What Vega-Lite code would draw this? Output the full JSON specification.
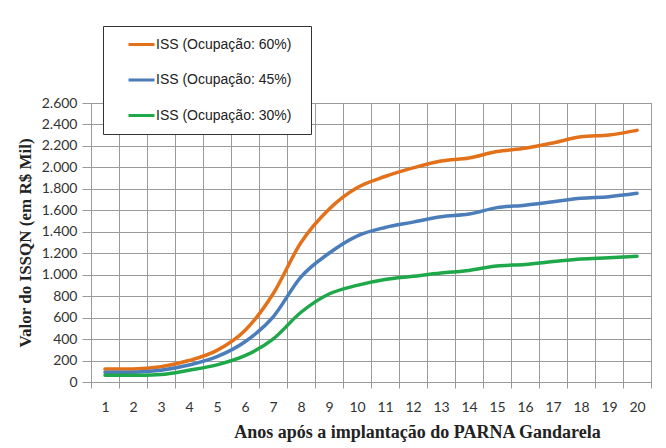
{
  "$schema": "https://vega.github.io/schema/vega-lite/v6.json",
  "width": 560,
  "height": 279,
  "autosize": "none",
  "padding": {"left": 91, "top": 103, "right": 15, "bottom": 66},
  "background": "white",
  "config": {
    "locale": {"number": {"decimal": ",", "thousands": ".", "grouping": [3], "currency": ["R$ ", ""]}},
    "view": {"stroke": "#9a9a9a", "strokeWidth": 1}
  },
  "data": {
    "values": [
      {"ano": 1, "serie": "ISS (Ocupação: 60%)", "valor": 120},
      {"ano": 2, "serie": "ISS (Ocupação: 60%)", "valor": 122},
      {"ano": 3, "serie": "ISS (Ocupação: 60%)", "valor": 143},
      {"ano": 4, "serie": "ISS (Ocupação: 60%)", "valor": 200},
      {"ano": 5, "serie": "ISS (Ocupação: 60%)", "valor": 295},
      {"ano": 6, "serie": "ISS (Ocupação: 60%)", "valor": 480},
      {"ano": 7, "serie": "ISS (Ocupação: 60%)", "valor": 820},
      {"ano": 8, "serie": "ISS (Ocupação: 60%)", "valor": 1300},
      {"ano": 9, "serie": "ISS (Ocupação: 60%)", "valor": 1610},
      {"ano": 10, "serie": "ISS (Ocupação: 60%)", "valor": 1810},
      {"ano": 11, "serie": "ISS (Ocupação: 60%)", "valor": 1915},
      {"ano": 12, "serie": "ISS (Ocupação: 60%)", "valor": 1995},
      {"ano": 13, "serie": "ISS (Ocupação: 60%)", "valor": 2060},
      {"ano": 14, "serie": "ISS (Ocupação: 60%)", "valor": 2088},
      {"ano": 15, "serie": "ISS (Ocupação: 60%)", "valor": 2148},
      {"ano": 16, "serie": "ISS (Ocupação: 60%)", "valor": 2178},
      {"ano": 17, "serie": "ISS (Ocupação: 60%)", "valor": 2228},
      {"ano": 18, "serie": "ISS (Ocupação: 60%)", "valor": 2285},
      {"ano": 19, "serie": "ISS (Ocupação: 60%)", "valor": 2302},
      {"ano": 20, "serie": "ISS (Ocupação: 60%)", "valor": 2345},
      {"ano": 1, "serie": "ISS (Ocupação: 45%)", "valor": 90},
      {"ano": 2, "serie": "ISS (Ocupação: 45%)", "valor": 92},
      {"ano": 3, "serie": "ISS (Ocupação: 45%)", "valor": 110},
      {"ano": 4, "serie": "ISS (Ocupação: 45%)", "valor": 158},
      {"ano": 5, "serie": "ISS (Ocupação: 45%)", "valor": 236},
      {"ano": 6, "serie": "ISS (Ocupação: 45%)", "valor": 375},
      {"ano": 7, "serie": "ISS (Ocupação: 45%)", "valor": 605},
      {"ano": 8, "serie": "ISS (Ocupação: 45%)", "valor": 980},
      {"ano": 9, "serie": "ISS (Ocupação: 45%)", "valor": 1200},
      {"ano": 10, "serie": "ISS (Ocupação: 45%)", "valor": 1360},
      {"ano": 11, "serie": "ISS (Ocupação: 45%)", "valor": 1440},
      {"ano": 12, "serie": "ISS (Ocupação: 45%)", "valor": 1490},
      {"ano": 13, "serie": "ISS (Ocupação: 45%)", "valor": 1540},
      {"ano": 14, "serie": "ISS (Ocupação: 45%)", "valor": 1565},
      {"ano": 15, "serie": "ISS (Ocupação: 45%)", "valor": 1625},
      {"ano": 16, "serie": "ISS (Ocupação: 45%)", "valor": 1648},
      {"ano": 17, "serie": "ISS (Ocupação: 45%)", "valor": 1680},
      {"ano": 18, "serie": "ISS (Ocupação: 45%)", "valor": 1712},
      {"ano": 19, "serie": "ISS (Ocupação: 45%)", "valor": 1727},
      {"ano": 20, "serie": "ISS (Ocupação: 45%)", "valor": 1758},
      {"ano": 1, "serie": "ISS (Ocupação: 30%)", "valor": 62},
      {"ano": 2, "serie": "ISS (Ocupação: 30%)", "valor": 62},
      {"ano": 3, "serie": "ISS (Ocupação: 30%)", "valor": 70},
      {"ano": 4, "serie": "ISS (Ocupação: 30%)", "valor": 110},
      {"ano": 5, "serie": "ISS (Ocupação: 30%)", "valor": 160},
      {"ano": 6, "serie": "ISS (Ocupação: 30%)", "valor": 245},
      {"ano": 7, "serie": "ISS (Ocupação: 30%)", "valor": 400},
      {"ano": 8, "serie": "ISS (Ocupação: 30%)", "valor": 650},
      {"ano": 9, "serie": "ISS (Ocupação: 30%)", "valor": 820},
      {"ano": 10, "serie": "ISS (Ocupação: 30%)", "valor": 900},
      {"ano": 11, "serie": "ISS (Ocupação: 30%)", "valor": 955},
      {"ano": 12, "serie": "ISS (Ocupação: 30%)", "valor": 985},
      {"ano": 13, "serie": "ISS (Ocupação: 30%)", "valor": 1015},
      {"ano": 14, "serie": "ISS (Ocupação: 30%)", "valor": 1040},
      {"ano": 15, "serie": "ISS (Ocupação: 30%)", "valor": 1082},
      {"ano": 16, "serie": "ISS (Ocupação: 30%)", "valor": 1095},
      {"ano": 17, "serie": "ISS (Ocupação: 30%)", "valor": 1122},
      {"ano": 18, "serie": "ISS (Ocupação: 30%)", "valor": 1147},
      {"ano": 19, "serie": "ISS (Ocupação: 30%)", "valor": 1158},
      {"ano": 20, "serie": "ISS (Ocupação: 30%)", "valor": 1172}
    ]
  },
  "mark": {"type": "line", "interpolate": "monotone", "strokeWidth": 3.5, "strokeCap": "round", "strokeJoin": "round"},
  "encoding": {
    "x": {
      "field": "ano",
      "type": "ordinal",
      "bandPosition": 0.5,
      "scale": {"type": "band", "paddingInner": 0, "paddingOuter": 0},
      "axis": {
        "title": "Anos após a implantação do PARNA Gandarela",
        "labelAngle": 0,
        "tickBand": "extent",
        "grid": true,
        "gridColor": "#9a9a9a",
        "gridOpacity": 1,
        "domainColor": "#9a9a9a",
        "tickColor": "#9a9a9a",
        "tickSize": 6,
        "labelPadding": 12,
        "labelFont": "Lato",
        "labelFontSize": 14,
        "labelColor": "#333333",
        "titleFont": "Liberation Serif",
        "titleFontSize": 18,
        "titleFontWeight": "bold",
        "titleColor": "#222222",
        "titleX": 326,
        "titleY": 50,
        "titleAlign": "center",
        "titleBaseline": "middle"
      }
    },
    "y": {
      "field": "valor",
      "type": "quantitative",
      "scale": {"domain": [0, 2600], "nice": false},
      "axis": {
        "title": "Valor do ISSQN (em R$ Mil)",
        "values": [0, 200, 400, 600, 800, 1000, 1200, 1400, 1600, 1800, 2000, 2200, 2400, 2600],
        "format": ",d",
        "grid": true,
        "gridColor": "#9a9a9a",
        "gridOpacity": 1,
        "domainColor": "#9a9a9a",
        "tickColor": "#9a9a9a",
        "tickSize": 9,
        "labelPadding": 5,
        "labelFont": "Lato",
        "labelFontSize": 14,
        "labelColor": "#333333",
        "titleFont": "Liberation Serif",
        "titleFontSize": 17,
        "titleFontWeight": "bold",
        "titleColor": "#222222",
        "titleAngle": -90,
        "titleX": -66,
        "titleY": 139.5,
        "titleAlign": "center",
        "titleBaseline": "middle"
      }
    },
    "color": {
      "field": "serie",
      "type": "nominal",
      "scale": {
        "domain": ["ISS (Ocupação: 60%)", "ISS (Ocupação: 45%)", "ISS (Ocupação: 30%)"],
        "range": ["#e3711a", "#4a7dba", "#1fa84a"]
      },
      "legend": {
        "orient": "none",
        "legendX": 12,
        "legendY": -77,
        "title": " ",
        "titleOrient": "right",
        "titlePadding": 8,
        "titleFontSize": 1,
        "strokeColor": "#333333",
        "fillColor": "white",
        "padding": 11.5,
        "symbolType": "stroke",
        "symbolSize": 676,
        "symbolStrokeWidth": 3,
        "symbolOffset": 12.5,
        "labelOffset": 0,
        "clipHeight": 14,
        "rowPadding": 21.5,
        "labelFont": "Liberation Sans",
        "labelFontSize": 14,
        "labelColor": "#222222",
        "labelLimit": 300
      }
    }
  }
}
